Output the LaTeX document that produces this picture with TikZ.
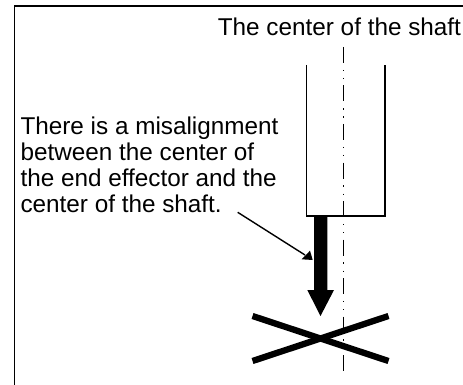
\documentclass[tikz,border=0pt]{standalone}
\usepackage{fontspec}
\setmainfont{Liberation Sans}
\begin{document}
\begin{tikzpicture}[x=1pt,y=-1pt,
  lbl/.style={inner sep=0pt,outer sep=0pt,font=\fontsize{24.3}{26}\selectfont,align=left,text=black},
  thin line/.style={line width=1.5pt,black},
  cross/.style={line width=6.3pt,black},
  axis/.style={line width=1.4pt,dash pattern=on 16pt off 6.8pt on 1.4pt off 6.8pt on 1.4pt off 6.1pt}]
\useasboundingbox (0,0) rectangle (463,385);
\coordinate (fbl) at (14.5,385);
\coordinate (ftl) at (14.5,6);
\coordinate (ftr) at (463,6);
\draw[thin line] (fbl) -- (ftl) -- (ftr);
\node[lbl,anchor=base east] (title) at (461,36) {The center of the shaft};
\node[lbl,anchor=north west] (note) at (20.5,116.5) {There is a misalignment\\between the center of\\the end effector and the\\center of the shaft.};
\coordinate (axt) at (343.7,47);
\coordinate (axb) at (343.7,377);
\draw[axis] (axt) -- (axb);
\coordinate (sl) at (306.7,65);
\coordinate (sbl) at (306.7,216);
\coordinate (sbr) at (385,216);
\coordinate (sr) at (385,65);
\draw[thin line] (sl) -- (sbl) -- (sbr) -- (sr);
\fill[black] (314,216) -- (327.3,216) -- (327.3,290) -- (334,290) -- (320.5,316) -- (307.3,290) -- (314,290) -- cycle;
\coordinate (n1) at (237.7,212.3);
\coordinate (n2) at (312.7,260);
\draw[line width=1.4pt,black] (n1) -- (305,255);
\fill[black] (n2) -- (301.7,259.3) -- (310,250.7) -- cycle;
\coordinate (x1) at (252.5,316);
\coordinate (x2) at (388.5,361);
\coordinate (x3) at (252.5,361);
\coordinate (x4) at (388.5,316);
\draw[cross] (x1) -- (x2);
\draw[cross] (x3) -- (x4);
\end{tikzpicture}
\end{document}
